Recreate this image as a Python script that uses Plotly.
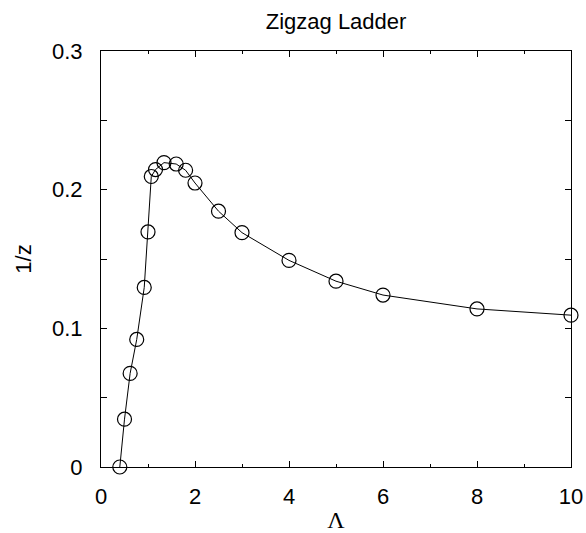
import plotly.graph_objects as go

lam = [0.4, 0.5, 0.62, 0.76, 0.92, 1.0, 1.07, 1.16, 1.34, 1.6, 1.8, 2.0, 2.5, 3.0, 4.0, 5.0, 6.0, 8.0, 10.0]
inv_z = [0.0, 0.0345, 0.0675, 0.092, 0.1295, 0.1695, 0.2095, 0.2145, 0.2195, 0.2185, 0.214, 0.2048, 0.1845, 0.169, 0.149, 0.134, 0.124, 0.114, 0.1095]

x_ticks = [0, 2, 4, 6, 8, 10]
x_ticktext = ["0", "2", "4", "6", "8", "10"]
y_ticks = [0, 0.1, 0.2, 0.3]
y_ticktext = ["0", "0.1", "0.2", "0.3"]

fig = go.Figure()
fig.add_trace(go.Scatter(
    x=lam, y=inv_z, mode="lines+markers",
    line=dict(color="black", width=1),
    marker=dict(symbol="circle-open", size=14, color="black", line=dict(width=1.2)),
    showlegend=False, cliponaxis=False,
))

font = dict(family="Liberation Sans, Arial, sans-serif", size=22, color="black")

fig.update_layout(
    width=586, height=533,
    margin=dict(l=101, r=15, t=51, b=66),
    paper_bgcolor="white", plot_bgcolor="white",
    font=font,
    title=dict(text="Zigzag Ladder", x=0.5735, xanchor="center", y=0.96, yanchor="middle",
               font=dict(size=22)),
    xaxis=dict(
        range=[0, 10], tickvals=x_ticks, ticktext=x_ticktext, automargin=False,
        ticks="inside", ticklen=6, tickcolor="black", tickwidth=1, ticklabelstandoff=10,
        showline=True, linecolor="black", linewidth=1, mirror="ticks",
        showgrid=False, zeroline=False,
        minor=dict(ticks="inside", dtick=1, ticklen=3, tickcolor="black", showgrid=False),
        title=dict(text="Λ", font=dict(family="Liberation Serif, Times New Roman, serif", size=24), standoff=4),
        tickfont=dict(size=22),
    ),
    yaxis=dict(
        range=[0, 0.3], tickvals=y_ticks, ticktext=y_ticktext, automargin=False,
        ticks="inside", ticklen=6, tickcolor="black", tickwidth=1, ticklabelstandoff=13,
        showline=True, linecolor="black", linewidth=1, mirror="ticks",
        showgrid=False, zeroline=False,
        minor=dict(ticks="inside", tickvals=[0.05, 0.15, 0.25], ticklen=6, tickcolor="black", showgrid=False),
        title=dict(text="1/z", font=dict(size=22), standoff=14),
        tickfont=dict(size=22),
    ),
)

fig.write_html("out.html", config={"displayModeBar": False},
               post_script="document.body.style.margin='0';")
